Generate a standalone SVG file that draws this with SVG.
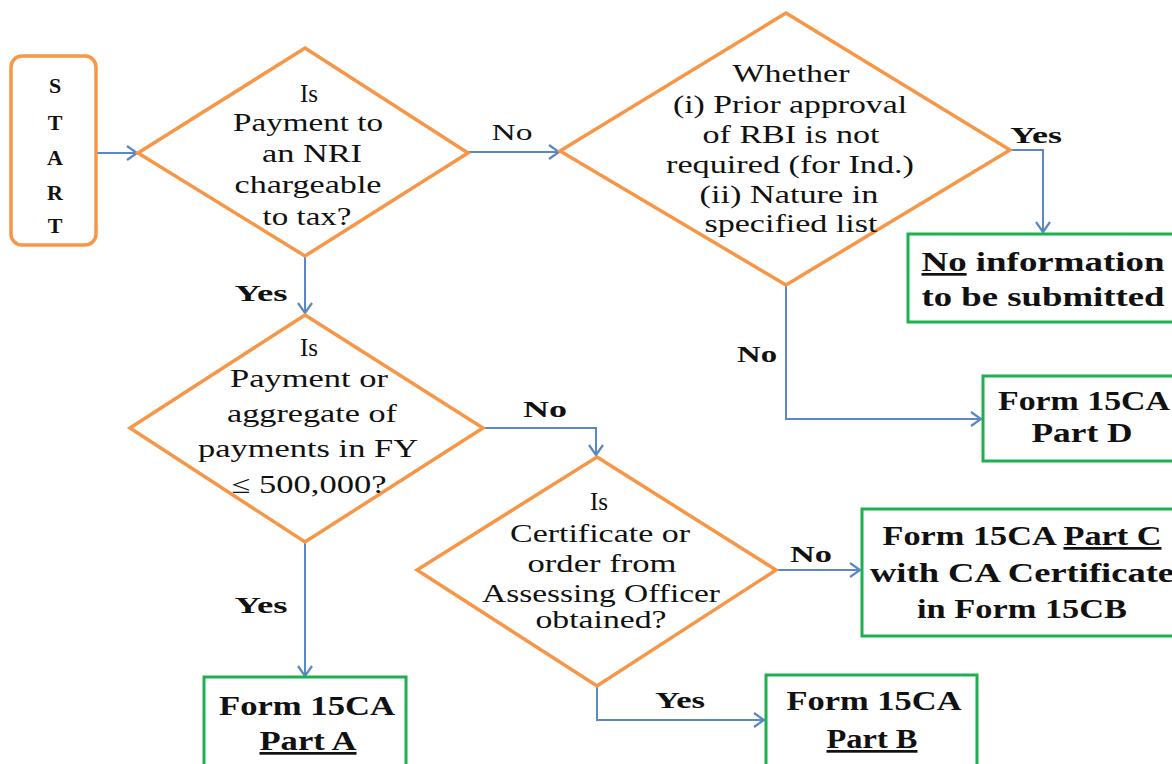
<svg xmlns="http://www.w3.org/2000/svg" width="1172" height="764" viewBox="0 0 1172 764">
<defs>
<marker id="arr" markerUnits="userSpaceOnUse" markerWidth="20" markerHeight="20" refX="11" refY="8" orient="auto" viewBox="0 0 20 20">
<path d="M1,1 L11,8 L1,15" fill="none" stroke="#5B87C5" stroke-width="2.2"/>
</marker>
<style>
.dia{fill:#fff;stroke:#F79646;stroke-width:3.5;stroke-linejoin:miter}
.start{fill:#fff;stroke:#F79646;stroke-width:3.5}
.box{fill:#fff;stroke:#1DB04F;stroke-width:3}
.con{fill:none;stroke:#5B87C5;stroke-width:2;marker-end:url(#arr)}
.q{font-family:'Liberation Serif','Times New Roman',serif;font-size:25px;fill:#111;text-anchor:middle}
.b{font-family:'Liberation Serif','Times New Roman',serif;font-size:27px;font-weight:bold;fill:#111;text-anchor:middle}
.s{font-family:'Liberation Serif','Times New Roman',serif;font-size:22px;font-weight:bold;fill:#111;text-anchor:middle}
.lbl{font-family:'Liberation Serif','Times New Roman',serif;font-size:24px;font-weight:bold;fill:#111;text-anchor:middle}
.reg{font-weight:normal}
</style>
</defs>
<rect width="1172" height="764" fill="#fff"/>

<g id="connectors">
<path class="con" d="M97,153 L137,153"/>
<path class="con" d="M468,152 L559,152"/>
<path class="con" d="M1010,150 L1043,150 L1043,232"/>
<path class="con" d="M786,285 L786,419 L981,419"/>
<path class="con" d="M305,256 L305,313"/>
<path class="con" d="M483,428 L596,428 L596,455"/>
<path class="con" d="M305,542 L305,676"/>
<path class="con" d="M776,570 L860,570"/>
<path class="con" d="M597,686 L597,720 L764,720"/>
<text class="lbl reg" x="512" y="140" textLength="41" lengthAdjust="spacingAndGlyphs">No</text>
<text class="lbl" x="1036" y="143" textLength="52" lengthAdjust="spacingAndGlyphs">Yes</text>
<text class="lbl" x="757" y="362" textLength="40" lengthAdjust="spacingAndGlyphs">No</text>
<text class="lbl" x="261" y="301" textLength="53" lengthAdjust="spacingAndGlyphs">Yes</text>
<text class="lbl" x="545" y="417" textLength="44" lengthAdjust="spacingAndGlyphs">No</text>
<text class="lbl" x="261" y="613" textLength="53" lengthAdjust="spacingAndGlyphs">Yes</text>
<text class="lbl" x="811" y="562" textLength="42" lengthAdjust="spacingAndGlyphs">No</text>
<text class="lbl" x="680" y="708" textLength="50" lengthAdjust="spacingAndGlyphs">Yes</text>
</g>

<g id="start">
<rect class="start" x="11" y="56" width="85" height="189" rx="11"/>
<text class="s" x="55" y="93">S</text>
<text class="s" x="55" y="130">T</text>
<text class="s" x="55" y="165">A</text>
<text class="s" x="55" y="200">R</text>
<text class="s" x="55" y="233">T</text>
</g>

<g id="d1">
<polygon class="dia" points="305,48 468,153 305,256 138,153"/>
<text class="q" x="309" y="102">Is</text>
<text class="q" x="308" y="131" textLength="150" lengthAdjust="spacingAndGlyphs">Payment to</text>
<text class="q" x="312" y="162" textLength="100" lengthAdjust="spacingAndGlyphs">an NRI</text>
<text class="q" x="308" y="193" textLength="147" lengthAdjust="spacingAndGlyphs">chargeable</text>
<text class="q" x="307" y="225" textLength="89" lengthAdjust="spacingAndGlyphs">to tax?</text>
</g>

<g id="d2">
<polygon class="dia" points="786,13 1010,150 786,285 560,151"/>
<text class="q" x="791" y="82" textLength="117" lengthAdjust="spacingAndGlyphs">Whether</text>
<text class="q" x="790" y="113" textLength="234" lengthAdjust="spacingAndGlyphs">(i) Prior approval</text>
<text class="q" x="791" y="143" textLength="177" lengthAdjust="spacingAndGlyphs">of RBI is not</text>
<text class="q" x="790" y="173" textLength="248" lengthAdjust="spacingAndGlyphs">required (for Ind.)</text>
<text class="q" x="789" y="203" textLength="179" lengthAdjust="spacingAndGlyphs">(ii) Nature in</text>
<text class="q" x="791" y="232" textLength="173" lengthAdjust="spacingAndGlyphs">specified list</text>
</g>

<g id="d3">
<polygon class="dia" points="305,315 483,428 305,542 130,428"/>
<text class="q" x="309" y="356">Is</text>
<text class="q" x="309" y="387" textLength="158" lengthAdjust="spacingAndGlyphs">Payment or</text>
<text class="q" x="312" y="422" textLength="170" lengthAdjust="spacingAndGlyphs">aggregate of</text>
<text class="q" x="308" y="457" textLength="220" lengthAdjust="spacingAndGlyphs">payments in FY</text>
<text class="q" x="309" y="493" textLength="155" lengthAdjust="spacingAndGlyphs">≤ 500,000?</text>
</g>

<g id="d4">
<polygon class="dia" points="597,457 776,570 597,686 417,570"/>
<text class="q" x="599" y="510">Is</text>
<text class="q" x="600" y="542" textLength="180" lengthAdjust="spacingAndGlyphs">Certificate or</text>
<text class="q" x="602" y="572" textLength="149" lengthAdjust="spacingAndGlyphs">order from</text>
<text class="q" x="601" y="602" textLength="238" lengthAdjust="spacingAndGlyphs">Assessing Officer</text>
<text class="q" x="601" y="628" textLength="131" lengthAdjust="spacingAndGlyphs">obtained?</text>
</g>

<g id="noinfo">
<rect class="box" x="908" y="234" width="272" height="88"/>
<text class="b" x="1043" y="271" textLength="243" lengthAdjust="spacingAndGlyphs"><tspan text-decoration="underline">No</tspan> information</text>
<text class="b" x="1043" y="306" textLength="243" lengthAdjust="spacingAndGlyphs">to be submitted</text>
</g>

<g id="partd">
<rect class="box" x="983" y="376" width="197" height="85"/>
<text class="b" x="1084" y="410" textLength="172" lengthAdjust="spacingAndGlyphs">Form 15CA</text>
<text class="b" x="1082" y="442" textLength="101" lengthAdjust="spacingAndGlyphs">Part D</text>
</g>

<g id="partc">
<rect class="box" x="862" y="509" width="318" height="127"/>
<text class="b" x="1022" y="545" textLength="279" lengthAdjust="spacingAndGlyphs">Form 15CA <tspan text-decoration="underline">Part C</tspan></text>
<text class="b" x="1022" y="582" textLength="304" lengthAdjust="spacingAndGlyphs">with CA Certificate</text>
<text class="b" x="1022" y="618" textLength="210" lengthAdjust="spacingAndGlyphs">in Form 15CB</text>
</g>

<g id="parta">
<rect class="box" x="204" y="677" width="202" height="100"/>
<text class="b" x="307" y="715" textLength="176" lengthAdjust="spacingAndGlyphs">Form 15CA</text>
<text class="b" x="308" y="750" textLength="97" lengthAdjust="spacingAndGlyphs"><tspan text-decoration="underline">Part A</tspan></text>
</g>

<g id="partb">
<rect class="box" x="766" y="675" width="211" height="100"/>
<text class="b" x="874" y="710" textLength="175" lengthAdjust="spacingAndGlyphs">Form 15CA</text>
<text class="b" x="872" y="748" textLength="91" lengthAdjust="spacingAndGlyphs"><tspan text-decoration="underline">Part B</tspan></text>
</g>
</svg>
